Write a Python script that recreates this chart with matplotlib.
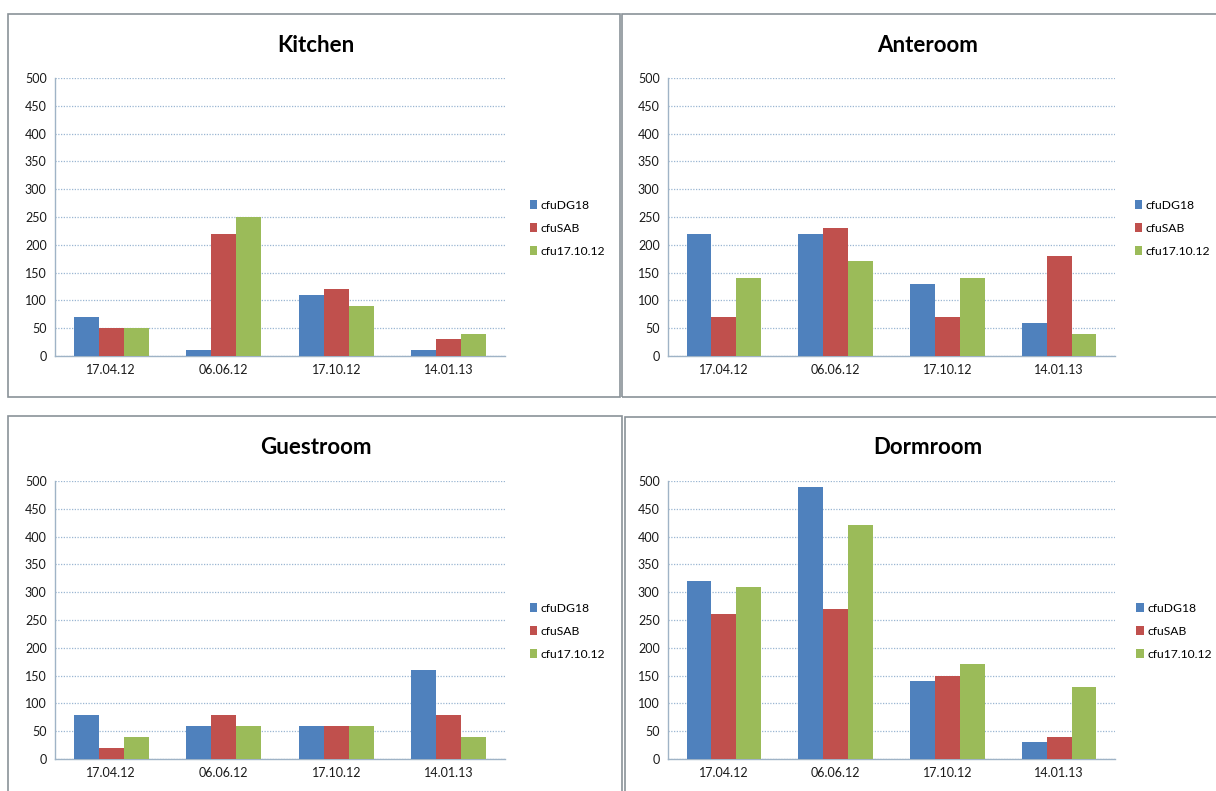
import numpy as np
import matplotlib
matplotlib.use("Agg")
import matplotlib.pyplot as plt
from matplotlib.patches import Rectangle

plt.rcParams['font.family'] = ['Lato', 'DejaVu Sans']

dates = ["17.04.12", "06.06.12", "17.10.12", "14.01.13"]
series_names = ["cfuDG18", "cfuSAB", "cfu17.10.12"]
colors = ["#4F81BD", "#C0504D", "#9BBB59"]

kitchen_dg18 = [70, 10, 110, 10]
kitchen_sab = [50, 220, 120, 30]
kitchen_cfu = [50, 250, 90, 40]

anteroom_dg18 = [220, 220, 130, 60]
anteroom_sab = [70, 230, 70, 180]
anteroom_cfu = [140, 170, 140, 40]

guestroom_dg18 = [80, 60, 60, 160]
guestroom_sab = [20, 80, 60, 80]
guestroom_cfu = [40, 60, 60, 40]

dormroom_dg18 = [320, 490, 140, 30]
dormroom_sab = [260, 270, 150, 40]
dormroom_cfu = [310, 420, 170, 130]

rooms = ["Kitchen", "Anteroom", "Guestroom", "Dormroom"]
room_data = [
    (kitchen_dg18, kitchen_sab, kitchen_cfu),
    (anteroom_dg18, anteroom_sab, anteroom_cfu),
    (guestroom_dg18, guestroom_sab, guestroom_cfu),
    (dormroom_dg18, dormroom_sab, dormroom_cfu),
]

W, H = 1216, 791
fig = plt.figure(figsize=(W / 100, H / 100), dpi=100)

# panel frames in pixel coords (x0, y0 top, x1, y1 bottom)
frames = [(8, 14, 620, 397), (622, 14, 1220, 397), (8, 416, 622, 795), (625, 417, 1220, 795)]
for x0, y0, x1, y1 in frames:
    fig.patches.append(Rectangle((x0 / W, 1 - y1 / H), (x1 - x0) / W, (y1 - y0) / H,
                                 transform=fig.transFigure, fill=False,
                                 edgecolor="#8a9298", linewidth=1.2))

# plot areas: (left px, top px, right px, bottom px)
areas = [(55, 78, 505, 356), (668, 78, 1115, 356), (55, 481, 505, 759), (668, 481, 1115, 759)]
title_y = [45, 45, 447, 447]
legend_x = [1.055, 1.045, 1.055, 1.048]

bar_w = 0.222
x = np.arange(len(dates))

for i, room in enumerate(rooms):
    l, t, r, b = areas[i]
    ax = fig.add_axes([l / W, 1 - b / H, (r - l) / W, (b - t) / H])
    for k, vals in enumerate(room_data[i]):
        ax.bar(x + (k - 1) * bar_w, vals, width=bar_w, color=colors[k],
               label=series_names[k], zorder=3)
    ax.set_xlim(-0.5, 3.5)
    ax.set_ylim(0, 500)
    ax.set_yticks(range(0, 501, 50))
    ax.set_xticks(x)
    ax.set_xticklabels(dates)
    ax.tick_params(length=0, labelsize=9, colors="#1a1a1a", pad=6)
    ax.yaxis.grid(True, linestyle=(0, (1, 1.2)), color="#9ab6d2", linewidth=0.9, zorder=0)
    for s in ["top", "right"]:
        ax.spines[s].set_visible(False)
    for s in ["left", "bottom"]:
        ax.spines[s].set_color("#9fb3c6")
        ax.spines[s].set_linewidth(1.0)
    ax.legend(loc="center left", bbox_to_anchor=(legend_x[i], 0.46), frameon=False,
              fontsize=8.7, handlelength=0.6, handleheight=0.7, handletextpad=0.3,
              labelspacing=1.0, borderpad=0, borderaxespad=0)
    cx = (l + r) / 2 + 36
    fig.text(cx / W, 1 - title_y[i] / H, room, ha="center", va="center",
             fontsize=16, fontweight="bold")

fig.savefig("out.png", dpi=100, facecolor="white")
